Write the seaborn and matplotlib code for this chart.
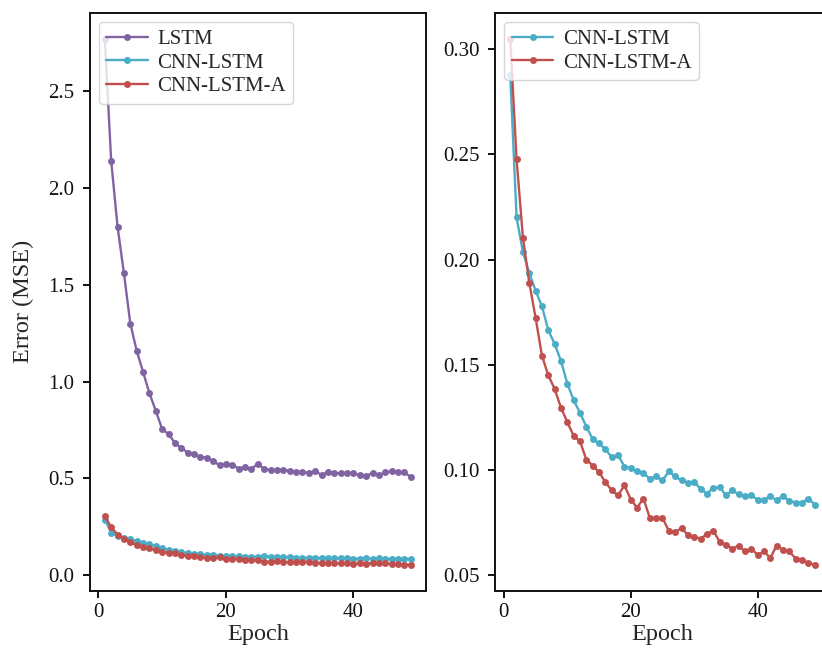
import numpy as np
import pandas as pd
import matplotlib
matplotlib.use("Agg")
import matplotlib.pyplot as plt
import seaborn as sns

epochs = list(range(1, 50))

lstm = [2.77, 2.14, 1.80, 1.56, 1.30, 1.16, 1.05, 0.94, 0.85, 0.754,
        0.73, 0.683, 0.658, 0.634, 0.628, 0.611, 0.608, 0.59, 0.568, 0.577,
        0.572, 0.551, 0.56, 0.548, 0.577, 0.548, 0.543, 0.543, 0.546, 0.539,
        0.534, 0.534, 0.529, 0.539, 0.517, 0.534, 0.529, 0.526, 0.526, 0.526,
        0.517, 0.512, 0.529, 0.517, 0.531, 0.538, 0.534, 0.531, 0.508]

cnn_lstm = [0.288, 0.220, 0.2036, 0.1935, 0.1852, 0.1777, 0.1664, 0.1598, 0.1517, 0.1409,
            0.133, 0.127, 0.1204, 0.1145, 0.1124, 0.1097, 0.1058, 0.1069, 0.1014, 0.1008,
            0.0991, 0.0983, 0.0956, 0.0967, 0.0948, 0.0991, 0.0967, 0.0948, 0.0937, 0.094,
            0.0909, 0.0885, 0.0912, 0.0917, 0.0877, 0.0901, 0.0882, 0.0873, 0.0877, 0.0857,
            0.0857, 0.0873, 0.0854, 0.0875, 0.085, 0.0843, 0.0843, 0.0862, 0.0833]

cnn_lstm_a = [0.305, 0.2478, 0.2104, 0.189, 0.1722, 0.1542, 0.1448, 0.1384, 0.1294, 0.1226,
              0.116, 0.1134, 0.1047, 0.1019, 0.0987, 0.094, 0.0901, 0.0877, 0.0925, 0.0857,
              0.0819, 0.0862, 0.077, 0.0767, 0.077, 0.0708, 0.0704, 0.072, 0.0689, 0.0681,
              0.067, 0.0693, 0.0709, 0.0657, 0.0642, 0.0623, 0.0638, 0.061, 0.0623, 0.0594,
              0.061, 0.0579, 0.0638, 0.0618, 0.061, 0.0575, 0.0571, 0.0555, 0.0547]

models = ["LSTM", "CNN-LSTM", "CNN-LSTM-A"]
colors = {"LSTM": "#8064A2", "CNN-LSTM": "#4BACC6", "CNN-LSTM-A": "#C0504D"}

rows = []
for name, vals in zip(models, [lstm, cnn_lstm, cnn_lstm_a]):
    for e, v in zip(epochs, vals):
        rows.append({"Epoch": e, "Error": v, "Model": name})
df = pd.DataFrame(rows)

sns.set_style("ticks")
plt.rcParams['font.family'] = ['Liberation Serif', 'DejaVu Serif']
plt.rcParams['axes.edgecolor'] = '#111111'
plt.rcParams['axes.linewidth'] = 1.4
plt.rcParams['xtick.major.size'] = 5
plt.rcParams['ytick.major.size'] = 5
plt.rcParams['xtick.major.width'] = 1.4
plt.rcParams['ytick.major.width'] = 1.4

fig = plt.figure(figsize=(8.22, 6.57), dpi=100)
ax1 = fig.add_axes([0.1089, 0.1005, 0.4094, 0.8802])
ax2 = fig.add_axes([0.6022, 0.1005, 0.4075, 0.8802])

line_kw = dict(marker="o", markersize=5, markeredgewidth=0, linewidth=1.7)

sns.lineplot(data=df, x="Epoch", y="Error", hue="Model", hue_order=models,
             palette=colors, ax=ax1, **line_kw)
sub = df[df["Model"] != "LSTM"]
sns.lineplot(data=sub, x="Epoch", y="Error", hue="Model", hue_order=models[1:],
             palette=colors, ax=ax2, **line_kw)

for ax in (ax1, ax2):
    for s in ax.spines.values():
        s.set_visible(True)
    ax.tick_params(axis='y', labelsize=15, colors='#111111', pad=6)
    ax.tick_params(axis='x', labelsize=15, colors='#111111', pad=4)
    ax.set_xlabel("Epoch", fontsize=17.5, labelpad=1)
    ax.set_xticks([0, 20, 40])
    sns.move_legend(ax, "upper left", title=None, fontsize=15, frameon=True,
                    edgecolor="#cccccc", framealpha=0.8, borderaxespad=0.45,
                    handlelength=2.0, handletextpad=0.45, labelspacing=0.2,
                    borderpad=0.35)

ax1.set_ylabel("Error (MSE)", fontsize=17.5, labelpad=10)
ax2.set_ylabel("")
ax1.set_yticks([0.0, 0.5, 1.0, 1.5, 2.0, 2.5])
ax2.set_yticks([0.05, 0.10, 0.15, 0.20, 0.25, 0.30])

fig.savefig("out.png", dpi=100)
